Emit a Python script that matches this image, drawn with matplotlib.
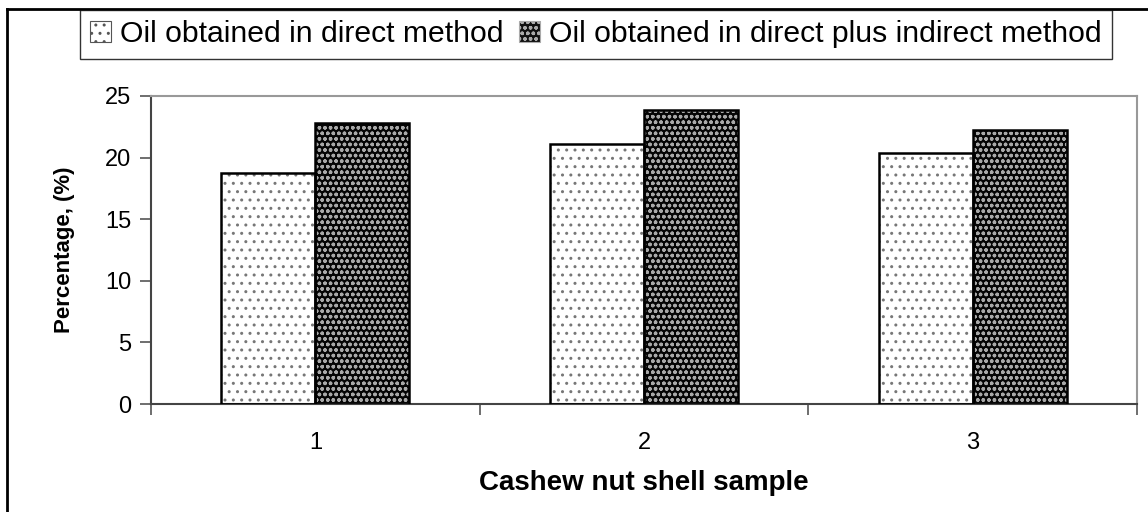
import matplotlib
matplotlib.use("Agg")
import matplotlib.pyplot as plt
from matplotlib.lines import Line2D
from matplotlib.patches import Patch
import numpy as np

samples = ["1", "2", "3"]
direct = [18.75, 21.1, 20.35]
direct_plus_indirect = [22.8, 23.85, 22.2]
series_labels = ["Oil obtained in direct method",
                 "Oil obtained in direct plus indirect method"]
y_ticks = [0, 5, 10, 15, 20, 25]

plt.rcParams["font.family"] = ["Liberation Sans", "DejaVu Sans"]
plt.rcParams["hatch.linewidth"] = 1.0

fig = plt.figure(figsize=(11.48, 5.12), dpi=100)
ax = fig.add_axes([0.1315, 0.2109, 0.859, 0.6016])

x = np.arange(len(samples))
w = 0.286

# light dotted bars
ax.bar(x - w / 2, direct, width=w, color="white", edgecolor="#777777",
       hatch="..", linewidth=0, zorder=2)
ax.bar(x - w / 2, direct, width=w, fill=False, edgecolor="black",
       linewidth=1.8, zorder=3)
# dark bars with light dash texture
ax.bar(x + w / 2, direct_plus_indirect, width=w, color="#050505",
       edgecolor="#a8a8a8", hatch="ooo", linewidth=0, zorder=2)
ax.bar(x + w / 2, direct_plus_indirect, width=w, fill=False,
       edgecolor="black", linewidth=1.8, zorder=3)

ax.set_xlim(-0.5, len(samples) - 0.5)
ax.set_ylim(0, 25)
ax.set_yticks(y_ticks)
ax.set_xticks(x)
ax.set_xticklabels(samples)
ax.set_xticks(np.arange(len(samples) + 1) - 0.5, minor=True)
ax.tick_params(axis="x", which="major", length=0, pad=20, labelsize=17)
ax.tick_params(axis="x", which="minor", length=8, width=1.2, color="#555555",
               direction="out")
ax.tick_params(axis="y", length=8, width=1.2, color="#555555",
               direction="out", labelsize=17, pad=6)

for side in ("left", "bottom"):
    ax.spines[side].set_color("#444444")
    ax.spines[side].set_linewidth(1.5)
for side in ("top", "right"):
    ax.spines[side].set_color("#999999")
    ax.spines[side].set_linewidth(1.5)

ax.set_xlabel("Cashew nut shell sample", fontsize=20, fontweight="bold",
              labelpad=12)
ax.set_ylabel("Percentage, (%)", fontsize=16, fontweight="bold",
              labelpad=22)

handles = [
    Patch(facecolor="white", edgecolor="#555555", hatch="..", linewidth=0.8),
    Patch(facecolor="#111111", edgecolor="#aaaaaa", hatch="ooo", linewidth=0.8),
]
leg = fig.legend(handles, series_labels, loc="center",
                 bbox_to_anchor=(0.519, 0.933), ncol=2, frameon=True,
                 fancybox=False, edgecolor="black",
                 handlelength=0.7, handleheight=0.7, handletextpad=0.3,
                 columnspacing=0.5, borderpad=0.35, borderaxespad=0,
                 prop={"size": 21.7})
leg.get_frame().set_linewidth(1.0)

# outer figure border (left and top edges)
fig.add_artist(Line2D([7 / 1148, 7 / 1148], [0, 1 - 9 / 512],
                      transform=fig.transFigure, color="black", linewidth=2))
fig.add_artist(Line2D([7 / 1148, 1], [1 - 9 / 512, 1 - 9 / 512],
                      transform=fig.transFigure, color="black", linewidth=2))

fig.savefig("out.png", dpi=100, facecolor="white")
